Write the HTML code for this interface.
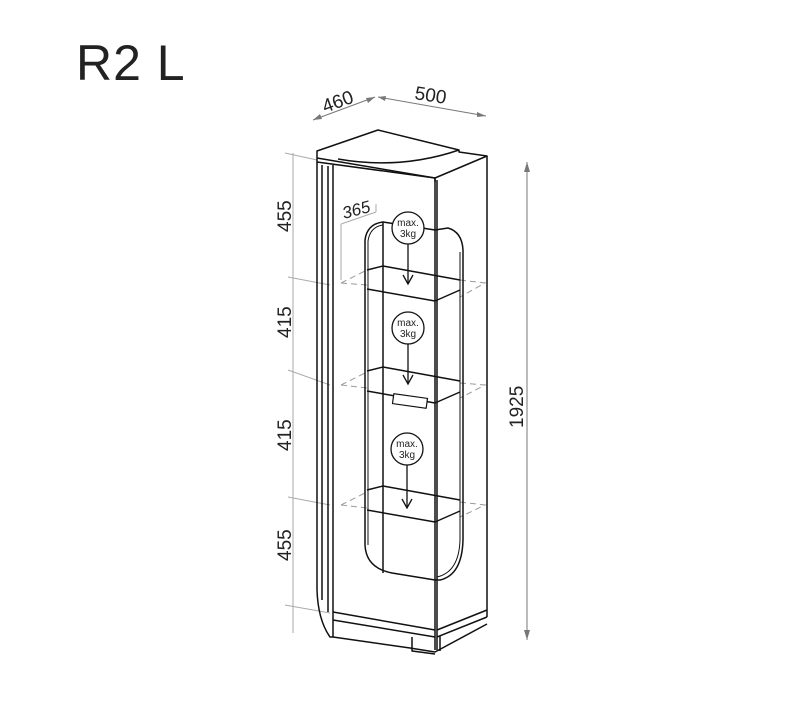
<!DOCTYPE html>
<html><head><meta charset="utf-8"><style>
html,body{margin:0;padding:0;background:#fff;}
svg{display:block;}
text{font-family:"Liberation Sans",sans-serif;fill:#222;}
</style></head><body>
<svg width="800" height="716" viewBox="0 0 800 716" xmlns="http://www.w3.org/2000/svg">
<text x="76" y="80" font-size="50" fill="#111" style="letter-spacing:1px">R2 L</text>

<g stroke="#777" stroke-width="1" fill="none">
<line x1="313" y1="120" x2="375" y2="97"/>
<line x1="378" y1="97" x2="486" y2="116"/>
<line x1="293" y1="153" x2="293" y2="633" stroke="#aaa"/>
<line x1="527" y1="162" x2="527" y2="640"/>
</g>
<g fill="#777">
<polygon points="313,120 320,114 322,119"/>
<polygon points="375,97 366,98 368,103"/>
<polygon points="378,97 386,96 385,101"/>
<polygon points="486,116 477,112 477,117"/>
<polygon points="527,162 524,172 530,172"/>
<polygon points="527,640 524,630 530,630"/>
</g>
<text x="0" y="0" font-size="19" transform="translate(325,113) rotate(-20)">460</text>
<text x="0" y="0" font-size="19" transform="translate(414,99) rotate(9)">500</text>
<text x="0" y="0" font-size="19" transform="translate(523,428) rotate(-90)">1925</text>
<text x="0" y="0" font-size="19" transform="translate(291,232) rotate(-90)">455</text>
<text x="0" y="0" font-size="19" transform="translate(291,338) rotate(-90)">415</text>
<text x="0" y="0" font-size="19" transform="translate(291,451) rotate(-90)">415</text>
<text x="0" y="0" font-size="19" transform="translate(291,561) rotate(-90)">455</text>
<text x="0" y="0" font-size="17" font-style="italic" transform="translate(344,219) rotate(-15)">365</text>

<g stroke="#aaa" stroke-width="1" fill="none">
<line x1="285" y1="153" x2="317" y2="160"/>
<line x1="288" y1="277" x2="330" y2="285"/>
<line x1="288" y1="370" x2="330" y2="385"/>
<line x1="288" y1="497" x2="330" y2="505"/>
<line x1="285" y1="605" x2="330" y2="613"/>
<line x1="341" y1="224" x2="341" y2="280"/>
<line x1="341" y1="224" x2="376" y2="212"/>
<line x1="376" y1="212" x2="376" y2="204"/>
</g>
<g stroke="#999" stroke-width="1" fill="none" stroke-dasharray="6,4">
<polyline points="341,283 367,270"/><polyline points="341,283 367,285"/>
<polyline points="460,280 485,283 460,297"/>
<polyline points="341,385 367,372"/><polyline points="341,385 367,388"/>
<polyline points="460,383 485,385 460,398"/>
<polyline points="341,505 367,492"/><polyline points="341,505 367,508"/>
<polyline points="460,502 485,505 460,517"/>
</g>

<g stroke="#111" stroke-width="1.5" fill="none" stroke-linejoin="round">
<polygon points="317,151 378,130 459,150 459,152 487,156 435,178 317,162" fill="#fff"/>
<line x1="317" y1="158" x2="435" y2="178"/>
<path d="M338,159 Q400,170 459,150"/>
<line x1="435" y1="178" x2="435" y2="182"/>
<path d="M317,162 L317,590 Q318,620 330,637 L333,637 L333,620 L333,165"/>
<line x1="322" y1="165" x2="322" y2="600"/>
<line x1="328" y1="166" x2="328" y2="612"/>
<line x1="435" y1="178" x2="435" y2="650"/>
<line x1="437" y1="180" x2="437" y2="650"/>
<line x1="487" y1="156" x2="487" y2="617"/>
<line x1="333" y1="612" x2="435" y2="630"/>
<line x1="437" y1="630" x2="487" y2="610"/>
<line x1="333" y1="620" x2="435" y2="637"/>
<line x1="437" y1="637" x2="487" y2="617"/>
<polyline points="333,637 410,648 435,652 487,624"/>
<polyline points="412,637 412,651 435,654"/>
<line x1="440" y1="636" x2="440" y2="651"/>
<path d="M365,545 L365,240 Q367,224 383,222 L435,230 L448,228 Q462,232 463,250 L463,540 Q462,575 440,580 L435,580 L392,573 Q366,568 365,545"/>
<path d="M368,545 L368,241 Q370,227 383,225" stroke-width="1"/>
<path d="M460,252 L460,540 Q459,572 437,577" stroke-width="1"/>
<line x1="383" y1="222" x2="383" y2="573"/>
<polyline points="367,270 383,266 460,280"/>
<polyline points="367,289 435,301 460,290"/>
<polyline points="367,371 383,367 460,381"/>
<polyline points="367,391 435,403 460,392"/>
<polyline points="367,490 383,486 460,500"/>
<polyline points="367,510 435,522 460,511"/>
<rect x="393" y="396" width="34" height="10" transform="rotate(8 410 401)" stroke-width="1.2" fill="#fff"/>
</g>
<g stroke="#111" stroke-width="1.3" fill="#fff">
<circle cx="408" cy="228" r="16"/>
<circle cx="408" cy="328" r="16"/>
<circle cx="407" cy="449" r="16"/>
</g>
<g stroke="#111" stroke-width="1.3" fill="none">
<line x1="408" y1="244" x2="408" y2="283"/><polyline points="403,275 408,284 413,275"/>
<line x1="408" y1="344" x2="408" y2="383"/><polyline points="403,375 408,384 413,375"/>
<line x1="407" y1="465" x2="407" y2="507"/><polyline points="402,499 407,508 412,499"/>
</g>
<g font-size="10" text-anchor="middle">
<text x="408" y="226">max.</text><text x="408" y="237">3kg</text>
<text x="408" y="326">max.</text><text x="408" y="337">3kg</text>
<text x="407" y="447">max.</text><text x="407" y="458">3kg</text>
</g>
</svg>
</body></html>
